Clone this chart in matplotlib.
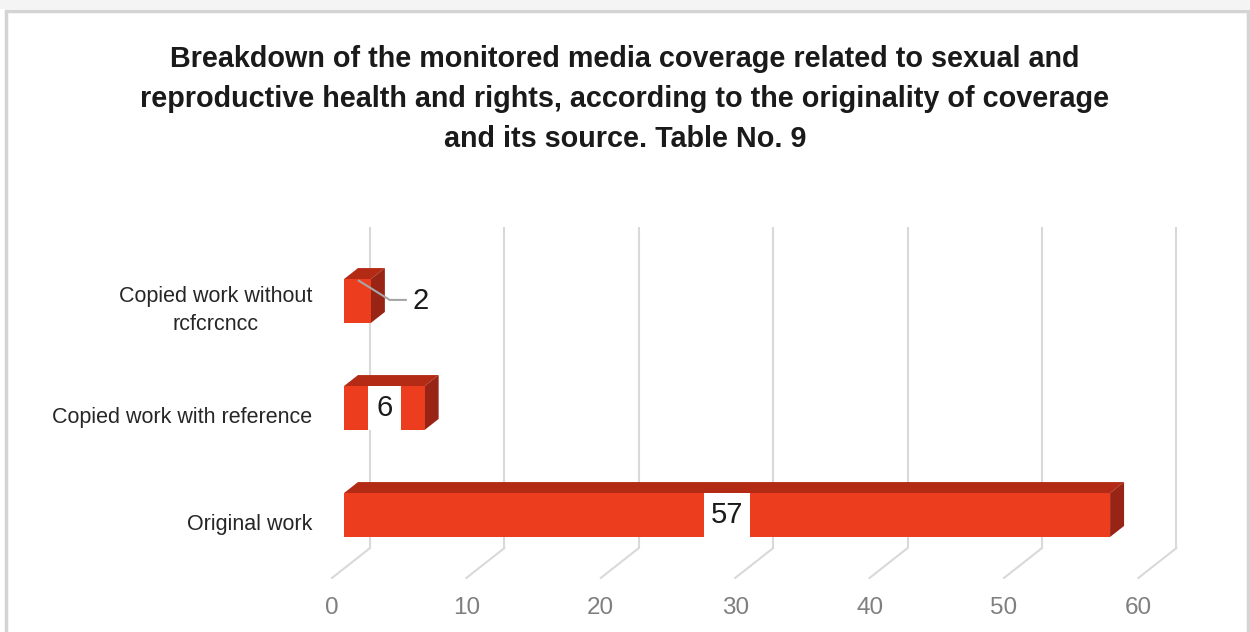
import matplotlib.pyplot as plt
from matplotlib.patches import Polygon, Rectangle

# dati
categories = ["Original work", "Copied work with reference", "Copied work without\nrcfcrcncc"]
values = [57, 6, 2]
ticks = [0, 10, 20, 30, 40, 50, 60]
title = ("Breakdown of the monitored media coverage related to sexual and\n"
         "reproductive health and rights, according to the originality of coverage\n"
         "and its source. Table No. 9")

FONT = ["Liberation Sans Narrow", "Liberation Sans", "DejaVu Sans"]
FRONT = "#ec3d1f"
TOP = "#b32b15"
SIDE = "#972414"
GRID = "#d9d9d9"

W, H = 1250, 632
fig = plt.figure(figsize=(W / 100, H / 100), dpi=100)
ax = fig.add_axes([0, 0, 1, 1])

# x in unita di valore, y in unita di categoria
PXV, PXC = 13.44, 107.0
X0, Y0 = 344, 515
ax.set_xlim(-X0 / PXV, (W - X0) / PXV)
ax.set_ylim((Y0 - H) / PXC, Y0 / PXC)
ax.axis("off")


def depth(d):
    # spostamento in profondita (pixel orizzontali) -> unita dati
    return d / PXV, 0.786 * d / PXC


floor = depth(-12)
bar_back = depth(14)
wall = depth(26)
lo, hi = -0.5, len(categories) - 0.5
half = 0.205

# griglia: parete di fondo + pavimento
for t in ticks:
    ax.plot([t + wall[0], t + wall[0]], [lo + wall[1], hi + wall[1]],
            color=GRID, lw=1.5, zorder=1, solid_capstyle="butt")
    ax.plot([t + wall[0], t + floor[0]], [lo + wall[1], lo + floor[1]],
            color=GRID, lw=1.5, zorder=1)
    ax.text(t + floor[0], lo + floor[1] - 30 / PXC, str(t), ha="center", va="center",
            fontsize=17.5, color="#7f7f7f", family=FONT)

# barre 3d
for i, v in enumerate(values):
    b, tp = i - half, i + half
    dx, dy = bar_back
    ax.add_patch(Polygon([(0, tp), (v, tp), (v + dx, tp + dy), (dx, tp + dy)],
                         closed=True, fc=TOP, ec="none", zorder=3))
    ax.add_patch(Polygon([(v, b), (v, tp), (v + dx, tp + dy), (v + dx, b + dy)],
                         closed=True, fc=SIDE, ec="none", zorder=3))
    ax.add_patch(Rectangle((0, b), v, 2 * half, fc=FRONT, ec="none", zorder=4))

    # etichette categorie
    ax.text(floor[0] - 20 / PXV, i + floor[1], categories[i], ha="right", va="center",
            multialignment="center", fontsize=15.5, color="#262626", family=FONT,
            linespacing=1.4)

# etichette valori
for i, v in enumerate(values):
    if v >= 5:
        w = (len(str(v)) * 13 + 20) / PXV
        ax.add_patch(Rectangle((v / 2 - w / 2, i - half), w, 2 * half,
                               fc="white", ec="none", zorder=5))
        ax.text(v / 2, i, str(v), ha="center", va="center", fontsize=21,
                color="#1a1a1a", family=FONT, zorder=6)
    else:
        # linea guida per la barra piccola
        ax.plot([v * 0.55, v + 1.4, v + 2.6], [i + 0.19, i + 0.01, i + 0.01],
                color="#a6a6a6", lw=1.5, zorder=6)
        ax.text(v + 3.73, i, str(v), ha="center", va="center", fontsize=21,
                color="#1a1a1a", family=FONT, zorder=6)

# titolo
fig.text(0.5, 1 - 99 / H, title, ha="center", va="center", fontsize=20.7,
         fontweight="bold", color="#1a1a1a", family=FONT, linespacing=1.55)

# cornice
fig.patches.append(Rectangle((0, 1 - 9 / H), 1, 9 / H, transform=fig.transFigure,
                             fc="#f4f4f4", ec="none", zorder=0))
fig.patches.append(Rectangle((6 / W, -0.05), 1242 / W, 1.05 - 11 / H,
                             transform=fig.transFigure, fc="none", ec="#d4d4d4",
                             lw=2.5, zorder=0))

fig.savefig("out.png", dpi=100)
